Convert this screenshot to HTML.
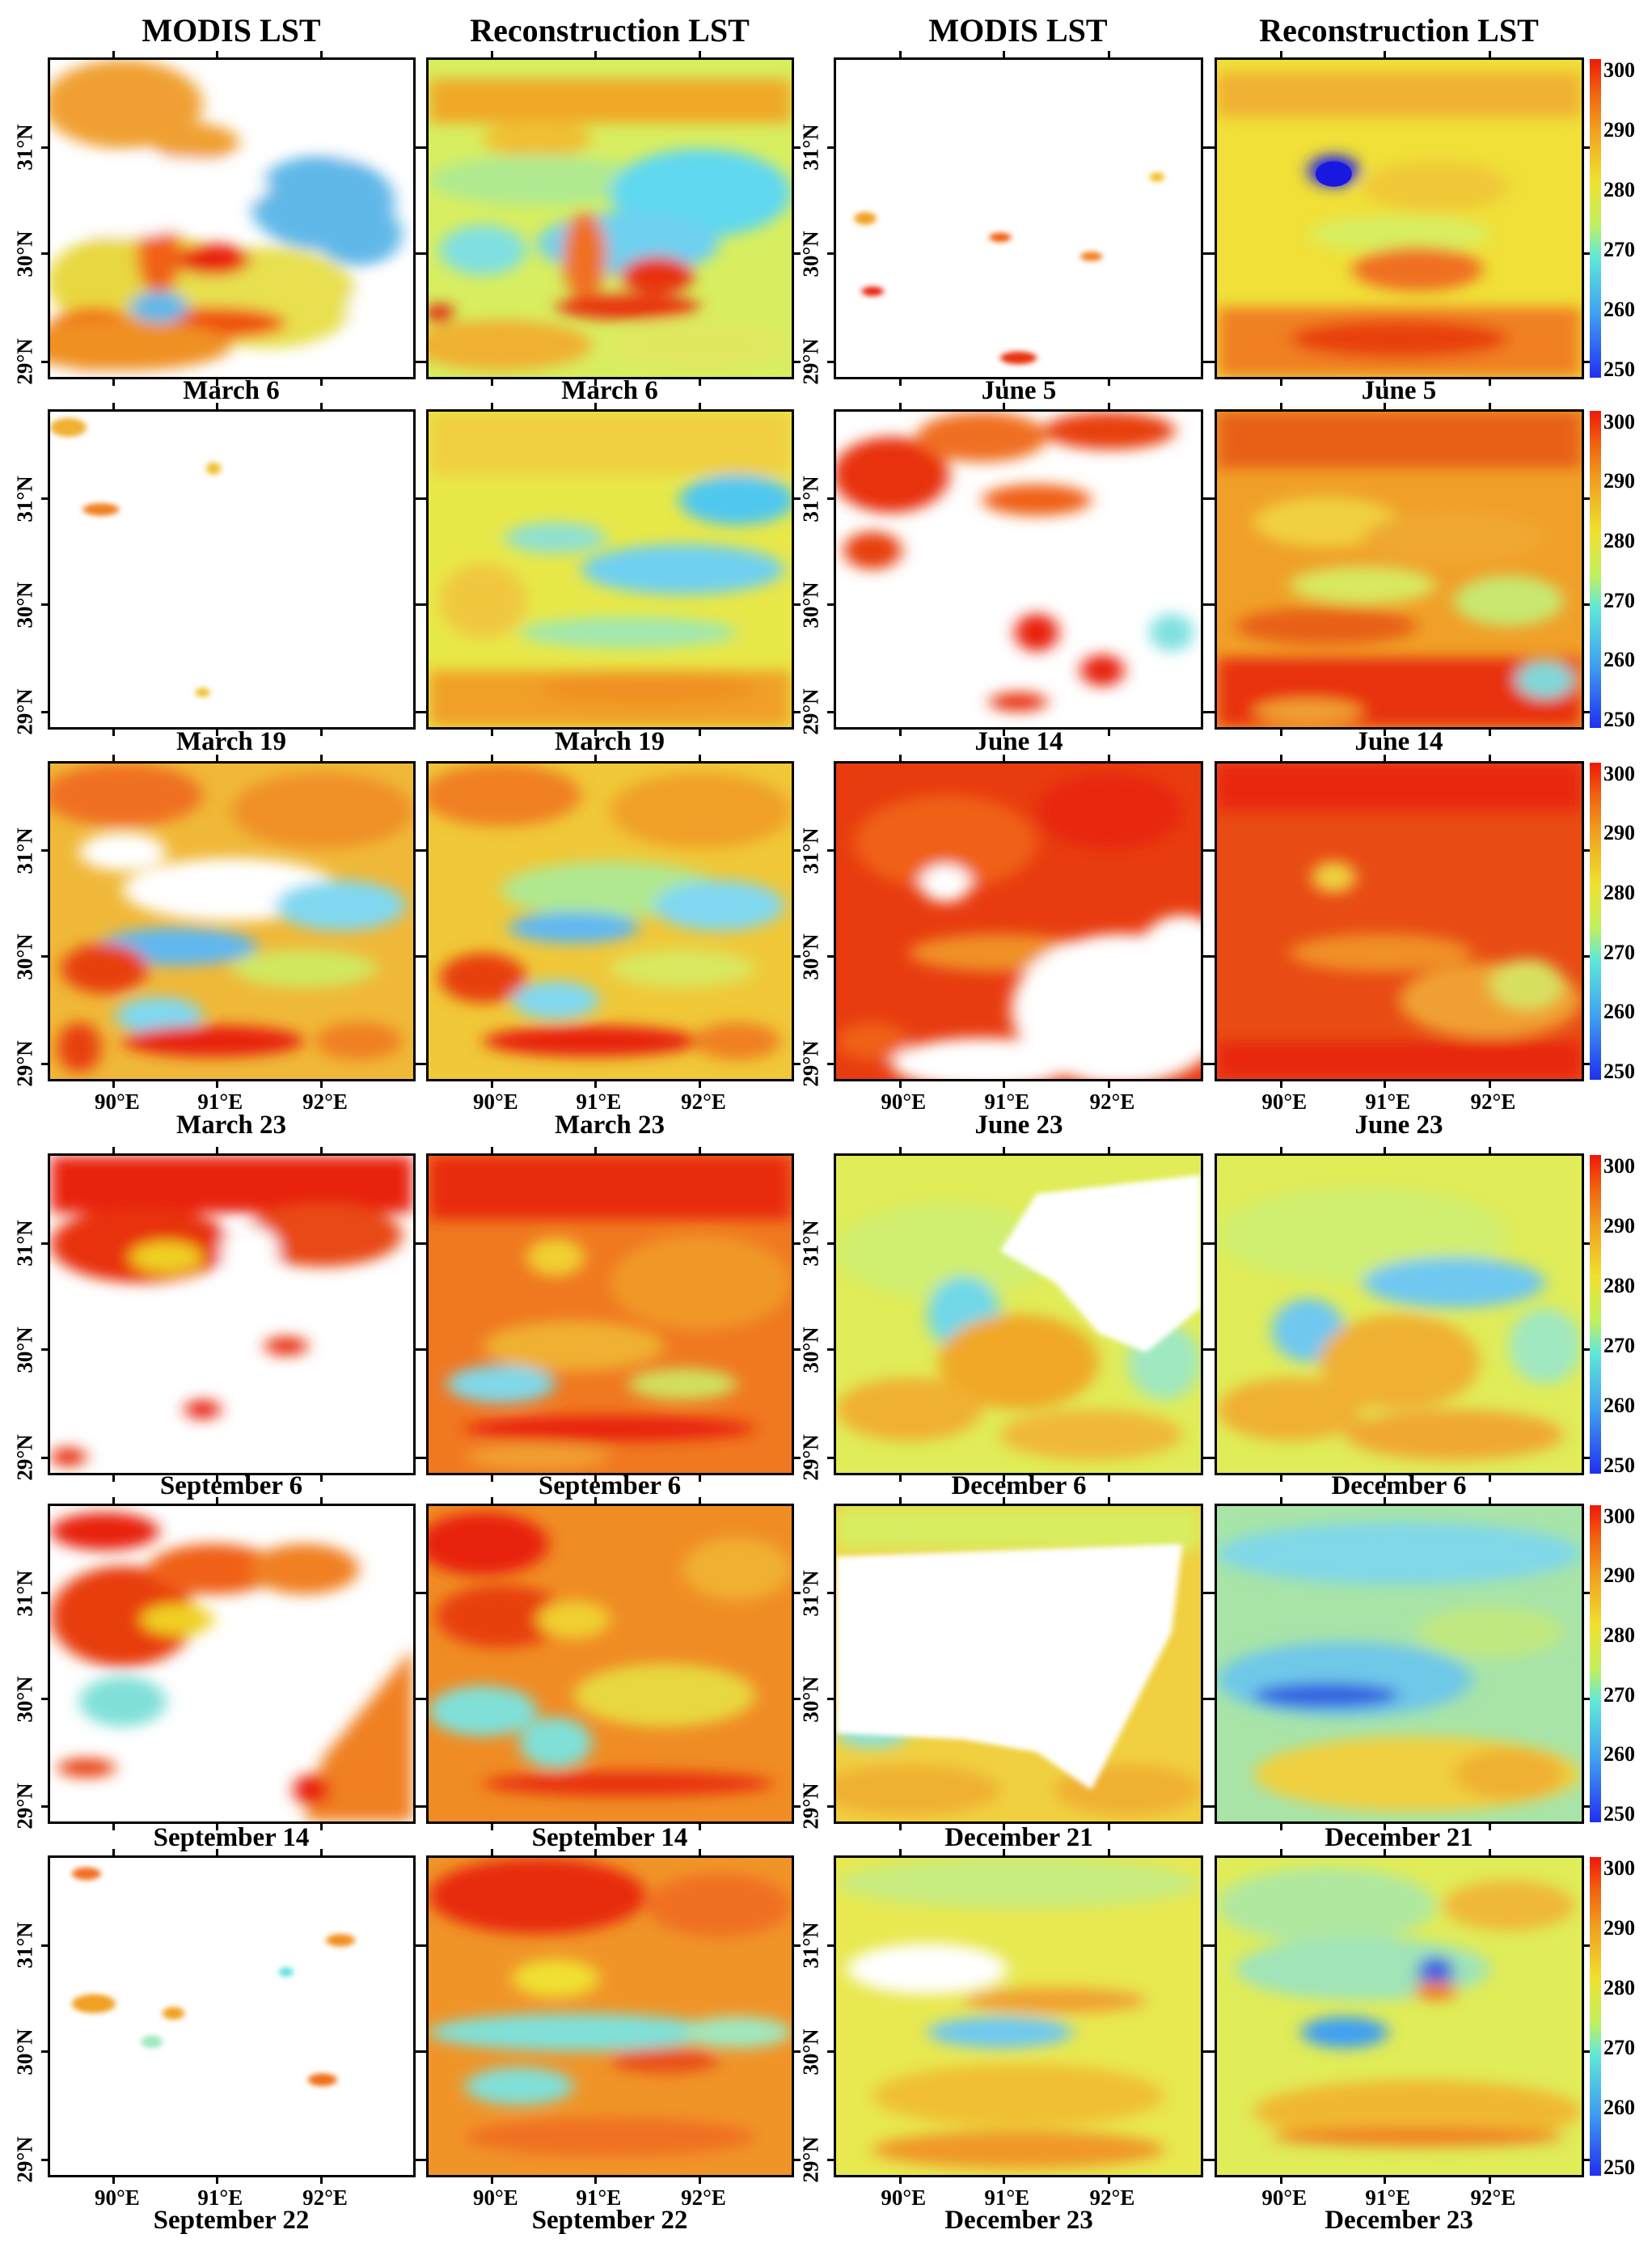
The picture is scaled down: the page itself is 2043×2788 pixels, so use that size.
<!DOCTYPE html>
<html><head><meta charset="utf-8"><style>
body{margin:0;background:#fff;}
#c{position:relative;width:2043px;height:2788px;background:#fff;overflow:hidden;font-family:"Liberation Serif",serif;font-weight:bold;color:#000;}
.p{position:absolute;border:3px solid #000;box-sizing:border-box;overflow:visible;background:#fff}
.p svg.m{position:absolute;left:0;top:0;width:100%;height:100%;display:block}
.t{position:absolute;font-size:40px;text-align:center;white-space:nowrap}
.d{position:absolute;font-size:33px;text-align:center;white-space:nowrap;width:460px}
.x{position:absolute;font-size:27px;white-space:nowrap;transform:translateX(-50%)}
.y{position:absolute;font-size:27px;white-space:nowrap;transform:translate(-50%,-50%) rotate(-90deg)}
.tk{position:absolute;background:#000}
.cb{position:absolute;width:14px;background:linear-gradient(#f01808,#f06010 10%,#f0a020 22%,#f0e030 38%,#c0f060 52%,#60e8d8 62%,#40a0f0 80%,#2030f0)}
.cl{position:absolute;font-size:26px;transform:translateY(-50%)}
</style></head><body><div id="c">
<svg width="0" height="0" style="position:absolute"><defs>
<filter id="b" x="-20%" y="-20%" width="140%" height="140%"><feGaussianBlur stdDeviation="2.2"/></filter>
<filter id="s" x="-20%" y="-20%" width="140%" height="140%"><feGaussianBlur stdDeviation="0.8"/></filter>
</defs></svg>

<div class="t" style="left:59px;width:454px;top:14px">MODIS LST</div>
<div class="t" style="left:527px;width:454px;top:14px">Reconstruction LST</div>
<div class="t" style="left:1031px;width:456px;top:14px">MODIS LST</div>
<div class="t" style="left:1502px;width:456px;top:14px">Reconstruction LST</div>

<!-- ROW 1 -->
<div class="p" style="left:59px;top:71px;width:455px;height:398px"><svg class="m" viewBox="0 0 100 100" preserveAspectRatio="none"><rect width="100" height="100" fill="#fff"/><g filter="url(#b)">
<ellipse cx="20" cy="14" rx="22" ry="14" fill="#f0a030"/><ellipse cx="40" cy="26" rx="12" ry="6" fill="#f0a030"/>
<ellipse cx="75" cy="45" rx="20" ry="15" fill="#60b8e8"/><ellipse cx="85" cy="55" rx="12" ry="10" fill="#60b8e8"/>
<ellipse cx="25" cy="70" rx="26" ry="16" fill="#e8d840"/><ellipse cx="60" cy="75" rx="25" ry="16" fill="#e8e050"/>
<ellipse cx="45" cy="63" rx="10" ry="5" fill="#e82010"/><ellipse cx="45" cy="83" rx="20" ry="5" fill="#f05010"/>
<ellipse cx="30" cy="62" rx="6" ry="12" fill="#f06018"/><ellipse cx="12" cy="88" rx="14" ry="10" fill="#f07018"/>
<ellipse cx="20" cy="90" rx="30" ry="8" fill="#f09020"/><ellipse cx="30" cy="78" rx="8" ry="5" fill="#60b8e8"/>
<ellipse cx="35" cy="40" rx="25" ry="9" fill="#fff"/><ellipse cx="20" cy="48" rx="20" ry="8" fill="#fff"/><ellipse cx="88" cy="18" rx="20" ry="14" fill="#fff"/><ellipse cx="92" cy="80" rx="10" ry="12" fill="#fff"/>
</g></svg></div>
<div class="p" style="left:527px;top:71px;width:455px;height:398px"><svg class="m" viewBox="0 0 100 100" preserveAspectRatio="none"><rect width="100" height="100" fill="#d8ee60"/><g filter="url(#b)">
<rect x="0" y="6" width="100" height="14" fill="#f0a828"/><ellipse cx="30" cy="25" rx="15" ry="6" fill="#f0c030"/>
<ellipse cx="30" cy="38" rx="30" ry="8" fill="#b0ea90"/><ellipse cx="75" cy="42" rx="25" ry="14" fill="#60d8f0"/><ellipse cx="55" cy="58" rx="25" ry="10" fill="#70d0f0"/><ellipse cx="15" cy="60" rx="12" ry="8" fill="#80e0e0"/>
<ellipse cx="43" cy="62" rx="6" ry="14" fill="#f07020"/><ellipse cx="63" cy="68" rx="10" ry="6" fill="#e83010"/><ellipse cx="55" cy="78" rx="20" ry="4" fill="#e83010"/>
<ellipse cx="20" cy="90" rx="25" ry="8" fill="#f0b030"/><ellipse cx="75" cy="90" rx="25" ry="8" fill="#e0e860"/><ellipse cx="3" cy="80" rx="4" ry="3" fill="#e02010"/>
</g></svg></div>
<div class="p" style="left:1031px;top:71px;width:457px;height:398px"><svg class="m" viewBox="0 0 100 100" preserveAspectRatio="none"><rect width="100" height="100" fill="#fff"/><g filter="url(#s)">
<ellipse cx="8" cy="50" rx="3" ry="2" fill="#f0a020"/><ellipse cx="45" cy="56" rx="3" ry="1.5" fill="#f06010"/><ellipse cx="10" cy="73" rx="3" ry="1.5" fill="#e82010"/><ellipse cx="50" cy="94" rx="5" ry="2" fill="#e83010"/><ellipse cx="88" cy="37" rx="2" ry="1.5" fill="#f0c020"/><ellipse cx="70" cy="62" rx="3" ry="1.5" fill="#f08020"/>
</g></svg></div>
<div class="p" style="left:1502px;top:71px;width:457px;height:398px"><svg class="m" viewBox="0 0 100 100" preserveAspectRatio="none"><rect width="100" height="100" fill="#f0e038"/><g filter="url(#b)">
<rect x="0" y="4" width="100" height="14" fill="#f0b030"/><ellipse cx="60" cy="40" rx="20" ry="8" fill="#f0c838"/>
<ellipse cx="32" cy="35" rx="7" ry="5" fill="#2020e8"/><ellipse cx="50" cy="55" rx="25" ry="6" fill="#d8ee60"/>
<ellipse cx="55" cy="66" rx="18" ry="7" fill="#f07020"/><rect x="0" y="78" width="100" height="22" fill="#f08020"/><ellipse cx="50" cy="88" rx="30" ry="6" fill="#e84010"/>
</g><ellipse cx="32" cy="36" rx="5" ry="4" fill="#1818e0"/></svg></div>

<!-- ROW 2 -->
<div class="p" style="left:59px;top:506px;width:455px;height:396px"><svg class="m" viewBox="0 0 100 100" preserveAspectRatio="none"><rect width="100" height="100" fill="#fff"/><g filter="url(#s)">
<ellipse cx="5" cy="5" rx="5" ry="3" fill="#f0b030"/><ellipse cx="14" cy="31" rx="5" ry="2" fill="#f08020"/><ellipse cx="45" cy="18" rx="2" ry="2" fill="#f0c030"/><ellipse cx="42" cy="89" rx="2" ry="1.5" fill="#f0c030"/>
</g></svg></div>
<div class="p" style="left:527px;top:506px;width:455px;height:396px"><svg class="m" viewBox="0 0 100 100" preserveAspectRatio="none"><rect width="100" height="100" fill="#e8e848"/><g filter="url(#b)">
<rect x="0" y="0" width="100" height="20" fill="#f0d040"/><ellipse cx="85" cy="28" rx="16" ry="8" fill="#50c8f0"/><ellipse cx="70" cy="50" rx="28" ry="8" fill="#70d0f0"/>
<ellipse cx="35" cy="40" rx="14" ry="5" fill="#90e0d0"/><ellipse cx="55" cy="70" rx="30" ry="5" fill="#a0e8b0"/><ellipse cx="15" cy="60" rx="12" ry="12" fill="#f0c840"/>
<rect x="0" y="82" width="100" height="18" fill="#f0a028"/><ellipse cx="60" cy="88" rx="30" ry="5" fill="#f09020"/>
</g></svg></div>
<div class="p" style="left:1031px;top:506px;width:457px;height:396px"><svg class="m" viewBox="0 0 100 100" preserveAspectRatio="none"><rect width="100" height="100" fill="#fff"/><g filter="url(#b)">
<ellipse cx="15" cy="20" rx="16" ry="12" fill="#e83010"/><ellipse cx="40" cy="8" rx="18" ry="8" fill="#f07020"/><ellipse cx="75" cy="6" rx="18" ry="6" fill="#e84010"/>
<ellipse cx="55" cy="28" rx="15" ry="5" fill="#f06018"/><ellipse cx="10" cy="44" rx="8" ry="6" fill="#e84010"/>
<ellipse cx="55" cy="70" rx="6" ry="6" fill="#e82010"/><ellipse cx="73" cy="82" rx="6" ry="5" fill="#e82010"/><ellipse cx="50" cy="92" rx="8" ry="3" fill="#e83010"/><ellipse cx="92" cy="70" rx="6" ry="6" fill="#80e0e0"/>
</g></svg></div>
<div class="p" style="left:1502px;top:506px;width:457px;height:396px"><svg class="m" viewBox="0 0 100 100" preserveAspectRatio="none"><rect width="100" height="100" fill="#f0a028"/><g filter="url(#b)">
<rect x="0" y="0" width="100" height="18" fill="#e86018"/><ellipse cx="30" cy="35" rx="20" ry="8" fill="#f0d040"/><ellipse cx="65" cy="40" rx="25" ry="8" fill="#f0a830"/>
<ellipse cx="40" cy="55" rx="20" ry="6" fill="#d8e860"/><ellipse cx="80" cy="60" rx="15" ry="8" fill="#c8e870"/><ellipse cx="30" cy="68" rx="25" ry="6" fill="#e86018"/>
<rect x="0" y="78" width="100" height="22" fill="#e83010"/><ellipse cx="90" cy="85" rx="8" ry="6" fill="#80d8d8"/><ellipse cx="25" cy="95" rx="15" ry="4" fill="#f0a030"/>
</g></svg></div>

<!-- ROW 3 -->
<div class="p" style="left:59px;top:941px;width:455px;height:396px"><svg class="m" viewBox="0 0 100 100" preserveAspectRatio="none"><rect width="100" height="100" fill="#f0b838"/><g filter="url(#b)">
<ellipse cx="20" cy="10" rx="22" ry="10" fill="#f07020"/><ellipse cx="75" cy="15" rx="25" ry="12" fill="#f09028"/>
<ellipse cx="50" cy="40" rx="30" ry="10" fill="#fff"/><ellipse cx="20" cy="28" rx="12" ry="6" fill="#fff"/><ellipse cx="80" cy="45" rx="18" ry="8" fill="#80d8f0"/>
<ellipse cx="35" cy="58" rx="22" ry="6" fill="#60b8f0"/><ellipse cx="15" cy="65" rx="12" ry="8" fill="#e84010"/><ellipse cx="70" cy="65" rx="20" ry="6" fill="#d0e860"/>
<ellipse cx="30" cy="80" rx="12" ry="6" fill="#80d8f0"/><ellipse cx="45" cy="88" rx="25" ry="5" fill="#e82010"/><ellipse cx="85" cy="88" rx="12" ry="6" fill="#f08020"/><ellipse cx="8" cy="90" rx="6" ry="8" fill="#e84010"/>
</g></svg></div>
<div class="p" style="left:527px;top:941px;width:455px;height:396px"><svg class="m" viewBox="0 0 100 100" preserveAspectRatio="none"><rect width="100" height="100" fill="#f0c838"/><g filter="url(#b)">
<ellipse cx="20" cy="10" rx="22" ry="10" fill="#f08020"/><ellipse cx="75" cy="15" rx="25" ry="12" fill="#f0a028"/>
<ellipse cx="50" cy="40" rx="30" ry="9" fill="#b0e890"/><ellipse cx="40" cy="52" rx="18" ry="5" fill="#60b8f0"/><ellipse cx="80" cy="45" rx="18" ry="8" fill="#80d8f0"/>
<ellipse cx="15" cy="68" rx="12" ry="8" fill="#e84010"/><ellipse cx="70" cy="65" rx="20" ry="6" fill="#d8e860"/><ellipse cx="35" cy="75" rx="12" ry="6" fill="#80d8f0"/>
<ellipse cx="45" cy="88" rx="30" ry="5" fill="#e82010"/><ellipse cx="85" cy="88" rx="12" ry="6" fill="#f08020"/>
</g></svg></div>
<div class="p" style="left:1031px;top:941px;width:457px;height:396px"><svg class="m" viewBox="0 0 100 100" preserveAspectRatio="none"><rect width="100" height="100" fill="#e83c10"/><g filter="url(#b)">
<ellipse cx="30" cy="25" rx="25" ry="15" fill="#f06018"/><ellipse cx="75" cy="15" rx="20" ry="12" fill="#e82810"/>
<ellipse cx="30" cy="38" rx="7" ry="6" fill="#fff"/><ellipse cx="45" cy="60" rx="25" ry="6" fill="#f09028"/>
<ellipse cx="78" cy="78" rx="30" ry="24" fill="#fff"/><ellipse cx="95" cy="60" rx="12" ry="12" fill="#fff"/><ellipse cx="40" cy="95" rx="25" ry="8" fill="#fff"/><ellipse cx="10" cy="88" rx="10" ry="6" fill="#f06018"/>
</g></svg></div>
<div class="p" style="left:1502px;top:941px;width:457px;height:396px"><svg class="m" viewBox="0 0 100 100" preserveAspectRatio="none"><rect width="100" height="100" fill="#e84c14"/><g filter="url(#b)">
<rect x="0" y="0" width="100" height="15" fill="#e82810"/><ellipse cx="32" cy="36" rx="6" ry="5" fill="#f0d040"/><ellipse cx="45" cy="60" rx="25" ry="6" fill="#f09028"/>
<ellipse cx="75" cy="75" rx="25" ry="12" fill="#f0a030"/><ellipse cx="85" cy="70" rx="10" ry="8" fill="#d8e060"/><rect x="0" y="88" width="100" height="12" fill="#e82810"/>
</g></svg></div>

<!-- ROW 4 -->
<div class="p" style="left:59px;top:1426px;width:455px;height:398px"><svg class="m" viewBox="0 0 100 100" preserveAspectRatio="none"><rect width="100" height="100" fill="#fff"/><g filter="url(#b)">
<rect x="0" y="0" width="100" height="18" fill="#e82010"/><ellipse cx="25" cy="28" rx="25" ry="12" fill="#e83010"/><ellipse cx="75" cy="25" rx="22" ry="10" fill="#e84818"/>
<ellipse cx="32" cy="32" rx="10" ry="5" fill="#f0d020"/><ellipse cx="55" cy="30" rx="8" ry="8" fill="#fff"/>
<ellipse cx="65" cy="60" rx="6" ry="3" fill="#e83010"/><ellipse cx="42" cy="80" rx="5" ry="3" fill="#e82010"/><ellipse cx="5" cy="95" rx="5" ry="3" fill="#e83010"/>
</g></svg></div>
<div class="p" style="left:527px;top:1426px;width:455px;height:398px"><svg class="m" viewBox="0 0 100 100" preserveAspectRatio="none"><rect width="100" height="100" fill="#f07820"/><g filter="url(#b)">
<rect x="0" y="0" width="100" height="20" fill="#e82c10"/><ellipse cx="35" cy="32" rx="8" ry="6" fill="#f0d030"/><ellipse cx="75" cy="40" rx="25" ry="15" fill="#f09828"/>
<ellipse cx="40" cy="60" rx="25" ry="8" fill="#f0b030"/><ellipse cx="20" cy="72" rx="15" ry="6" fill="#80d8e8"/><ellipse cx="70" cy="72" rx="15" ry="5" fill="#d0e060"/>
<ellipse cx="50" cy="86" rx="40" ry="4" fill="#e82010"/><ellipse cx="30" cy="95" rx="20" ry="4" fill="#f0a030"/>
</g></svg></div>
<div class="p" style="left:1031px;top:1426px;width:457px;height:398px"><svg class="m" viewBox="0 0 100 100" preserveAspectRatio="none"><rect width="100" height="100" fill="#e0ec58"/><g filter="url(#b)">
<ellipse cx="30" cy="30" rx="30" ry="15" fill="#d0ee70"/><ellipse cx="35" cy="50" rx="10" ry="12" fill="#70d8e8"/>
<ellipse cx="50" cy="65" rx="22" ry="15" fill="#f0a828"/><ellipse cx="20" cy="80" rx="20" ry="10" fill="#f0b030"/><ellipse cx="70" cy="88" rx="25" ry="8" fill="#f0b838"/>
<ellipse cx="90" cy="65" rx="10" ry="12" fill="#a0e8c0"/>
</g><g filter="url(#s)"><polygon points="55,12 100,6 100,48 85,62 72,56 60,40 45,30" fill="#fff"/><ellipse cx="75" cy="30" rx="20" ry="8" fill="#fff"/></g></svg></div>
<div class="p" style="left:1502px;top:1426px;width:457px;height:398px"><svg class="m" viewBox="0 0 100 100" preserveAspectRatio="none"><rect width="100" height="100" fill="#e0ec58"/><g filter="url(#b)">
<ellipse cx="40" cy="25" rx="40" ry="15" fill="#d0ee70"/><ellipse cx="65" cy="40" rx="25" ry="8" fill="#70c8f0"/><ellipse cx="25" cy="55" rx="10" ry="10" fill="#70c8f0"/>
<ellipse cx="50" cy="65" rx="22" ry="15" fill="#f0b030"/><ellipse cx="20" cy="80" rx="20" ry="10" fill="#f0b030"/><ellipse cx="65" cy="88" rx="30" ry="8" fill="#f0a830"/>
<ellipse cx="90" cy="60" rx="10" ry="12" fill="#a0e8c0"/>
</g></svg></div>

<!-- ROW 5 -->
<div class="p" style="left:59px;top:1859px;width:455px;height:396px"><svg class="m" viewBox="0 0 100 100" preserveAspectRatio="none"><rect width="100" height="100" fill="#fff"/><g filter="url(#b)">
<ellipse cx="15" cy="8" rx="15" ry="6" fill="#e82010"/><ellipse cx="20" cy="35" rx="20" ry="16" fill="#e83c10"/><ellipse cx="45" cy="20" rx="18" ry="8" fill="#f06018"/><ellipse cx="70" cy="20" rx="15" ry="8" fill="#f08020"/>
<ellipse cx="35" cy="36" rx="10" ry="5" fill="#f0d020"/><ellipse cx="20" cy="62" rx="12" ry="8" fill="#80e0d8"/><ellipse cx="10" cy="83" rx="8" ry="3" fill="#e84010"/>
<polygon points="100,45 100,100 70,100 75,80" fill="#f08020"/><ellipse cx="72" cy="90" rx="5" ry="5" fill="#e82010"/>
</g></svg></div>
<div class="p" style="left:527px;top:1859px;width:455px;height:396px"><svg class="m" viewBox="0 0 100 100" preserveAspectRatio="none"><rect width="100" height="100" fill="#f08c24"/><g filter="url(#b)">
<ellipse cx="15" cy="12" rx="18" ry="10" fill="#e82010"/><ellipse cx="20" cy="35" rx="18" ry="10" fill="#e84010"/><ellipse cx="40" cy="36" rx="10" ry="6" fill="#f0d030"/>
<ellipse cx="15" cy="65" rx="15" ry="8" fill="#80e0d8"/><ellipse cx="35" cy="75" rx="10" ry="8" fill="#80e0d8"/><ellipse cx="65" cy="60" rx="25" ry="10" fill="#e8d840"/>
<ellipse cx="55" cy="88" rx="40" ry="4" fill="#e83010"/><ellipse cx="85" cy="20" rx="15" ry="10" fill="#f0b030"/>
</g></svg></div>
<div class="p" style="left:1031px;top:1859px;width:457px;height:396px"><svg class="m" viewBox="0 0 100 100" preserveAspectRatio="none"><rect width="100" height="100" fill="#f0d040"/><g filter="url(#b)">
<rect x="0" y="0" width="100" height="14" fill="#d8ee60"/><ellipse cx="20" cy="90" rx="25" ry="8" fill="#f0b030"/><ellipse cx="80" cy="90" rx="20" ry="8" fill="#f0b030"/><ellipse cx="10" cy="72" rx="10" ry="5" fill="#90e0d0"/>
</g><g filter="url(#s)"><polygon points="0,16 95,12 92,40 70,90 55,78 35,74 0,72" fill="#fff"/></g></svg></div>
<div class="p" style="left:1502px;top:1859px;width:457px;height:396px"><svg class="m" viewBox="0 0 100 100" preserveAspectRatio="none"><rect width="100" height="100" fill="#a8e4a8"/><g filter="url(#b)">
<ellipse cx="50" cy="15" rx="50" ry="10" fill="#80d8e8"/><ellipse cx="35" cy="55" rx="35" ry="12" fill="#70c8e8"/><ellipse cx="30" cy="60" rx="20" ry="4" fill="#3060e0"/>
<ellipse cx="75" cy="40" rx="20" ry="8" fill="#c0e880"/><ellipse cx="55" cy="85" rx="45" ry="12" fill="#f0d040"/><ellipse cx="80" cy="85" rx="15" ry="8" fill="#f0b030"/>
</g></svg></div>

<!-- ROW 6 -->
<div class="p" style="left:59px;top:2294px;width:455px;height:398px"><svg class="m" viewBox="0 0 100 100" preserveAspectRatio="none"><rect width="100" height="100" fill="#fff"/><g filter="url(#s)">
<ellipse cx="10" cy="5" rx="4" ry="2" fill="#f07020"/><ellipse cx="12" cy="46" rx="6" ry="3" fill="#f0a020"/><ellipse cx="34" cy="49" rx="3" ry="2" fill="#f0a020"/><ellipse cx="28" cy="58" rx="3" ry="2" fill="#a0e8c0"/>
<ellipse cx="75" cy="70" rx="4" ry="2" fill="#f07018"/><ellipse cx="80" cy="26" rx="4" ry="2" fill="#f09020"/><ellipse cx="65" cy="36" rx="2" ry="1.5" fill="#60e0e0"/>
</g></svg></div>
<div class="p" style="left:527px;top:2294px;width:455px;height:398px"><svg class="m" viewBox="0 0 100 100" preserveAspectRatio="none"><rect width="100" height="100" fill="#f09428"/><g filter="url(#b)">
<ellipse cx="30" cy="12" rx="30" ry="12" fill="#e82c10"/><ellipse cx="80" cy="15" rx="20" ry="10" fill="#f07020"/><ellipse cx="35" cy="38" rx="12" ry="6" fill="#f0e030"/>
<ellipse cx="40" cy="55" rx="40" ry="6" fill="#80e0d8"/><ellipse cx="85" cy="55" rx="15" ry="5" fill="#a0e8c0"/><ellipse cx="65" cy="64" rx="15" ry="4" fill="#e85018"/>
<ellipse cx="25" cy="72" rx="15" ry="6" fill="#80e0d8"/><ellipse cx="50" cy="88" rx="40" ry="6" fill="#f07020"/>
</g></svg></div>
<div class="p" style="left:1031px;top:2294px;width:457px;height:398px"><svg class="m" viewBox="0 0 100 100" preserveAspectRatio="none"><rect width="100" height="100" fill="#e8e850"/><g filter="url(#b)">
<ellipse cx="50" cy="8" rx="50" ry="8" fill="#c8ec80"/><ellipse cx="25" cy="35" rx="22" ry="8" fill="#fff"/><ellipse cx="45" cy="55" rx="20" ry="5" fill="#70c8f0"/>
<ellipse cx="60" cy="45" rx="25" ry="4" fill="#f0a030"/><ellipse cx="50" cy="75" rx="40" ry="10" fill="#f0c030"/><ellipse cx="50" cy="92" rx="40" ry="6" fill="#f09828"/>
</g></svg></div>
<div class="p" style="left:1502px;top:2294px;width:457px;height:398px"><svg class="m" viewBox="0 0 100 100" preserveAspectRatio="none"><rect width="100" height="100" fill="#e0ec58"/><g filter="url(#b)">
<ellipse cx="30" cy="15" rx="30" ry="12" fill="#b0e8a0"/><ellipse cx="80" cy="15" rx="18" ry="8" fill="#f0b838"/><ellipse cx="40" cy="35" rx="35" ry="10" fill="#a0e4b8"/>
<ellipse cx="35" cy="55" rx="12" ry="5" fill="#40a0f0"/><ellipse cx="60" cy="36" rx="5" ry="5" fill="#4060e0"/><ellipse cx="60" cy="42" rx="6" ry="3" fill="#f08020"/>
<ellipse cx="55" cy="80" rx="45" ry="10" fill="#f0b830"/><ellipse cx="55" cy="88" rx="40" ry="3" fill="#f08020"/>
</g></svg></div>

<!-- date labels -->
<div class="d" style="left:56px;top:465px">March 6</div><div class="d" style="left:524px;top:465px">March 6</div><div class="d" style="left:1030px;top:465px">June 5</div><div class="d" style="left:1500px;top:465px">June 5</div>
<div class="d" style="left:56px;top:899px">March 19</div><div class="d" style="left:524px;top:899px">March 19</div><div class="d" style="left:1030px;top:899px">June 14</div><div class="d" style="left:1500px;top:899px">June 14</div>
<div class="d" style="left:56px;top:1373px">March 23</div><div class="d" style="left:524px;top:1373px">March 23</div><div class="d" style="left:1030px;top:1373px">June 23</div><div class="d" style="left:1500px;top:1373px">June 23</div>
<div class="d" style="left:56px;top:1819px">September 6</div><div class="d" style="left:524px;top:1819px">September 6</div><div class="d" style="left:1030px;top:1819px">December 6</div><div class="d" style="left:1500px;top:1819px">December 6</div>
<div class="d" style="left:56px;top:2254px">September 14</div><div class="d" style="left:524px;top:2254px">September 14</div><div class="d" style="left:1030px;top:2254px">December 21</div><div class="d" style="left:1500px;top:2254px">December 21</div>
<div class="d" style="left:56px;top:2727px">September 22</div><div class="d" style="left:524px;top:2727px">September 22</div><div class="d" style="left:1030px;top:2727px">December 23</div><div class="d" style="left:1500px;top:2727px">December 23</div>

<div id="gen"></div>
<script>
(function(){
var g=document.getElementById('gen'),h='';
var cols=[[59,455],[527,455],[1031,457],[1502,457]];
var rows=[[71,398],[506,396],[941,396],[1426,398],[1859,396],[2294,398]];
var xf=[0.18,0.46,0.745],yf=[0.28,0.61,0.945],lat=['31°N','30°N','29°N'],lon=['90°E','91°E','92°E'];
rows.forEach(function(r,ri){
 cols.forEach(function(c,ci){
  xf.forEach(function(f){var x=c[0]+f*c[1];
   h+='<div class="tk" style="left:'+(x-1.5)+'px;top:'+(r[0]-8)+'px;width:3px;height:8px"></div>';
   h+='<div class="tk" style="left:'+(x-1.5)+'px;top:'+(r[0]+r[1])+'px;width:3px;height:8px"></div>';});
  yf.forEach(function(f){var y=r[0]+f*r[1];
   h+='<div class="tk" style="left:'+(c[0]-8)+'px;top:'+(y-1.5)+'px;width:8px;height:3px"></div>';
   h+='<div class="tk" style="left:'+(c[0]+c[1])+'px;top:'+(y-1.5)+'px;width:8px;height:3px"></div>';});
  if(ci==0||ci==2){yf.forEach(function(f,i){h+='<div class="y" style="left:'+(c[0]-28)+'px;top:'+(r[0]+f*r[1])+'px">'+lat[i]+'</div>';});}
  if(ri==2||ri==5){xf.forEach(function(f,i){h+='<div class="x" style="left:'+(c[0]+f*c[1]+4)+'px;top:'+(r[0]+r[1]+10)+'px">'+lon[i]+'</div>';});}
 });
 h+='<div class="cb" style="left:1966px;top:'+(r[0]+2)+'px;height:'+(r[1]-4)+'px"></div>';
 ['300','290','280','270','260','250'].forEach(function(t,i){var y=r[0]+r[1]*(0.04+i*0.186);
  h+='<div class="cl" style="left:1983px;top:'+y+'px">'+t+'</div>';});
});
g.innerHTML=h;
})();
</script>
</div></body></html>
